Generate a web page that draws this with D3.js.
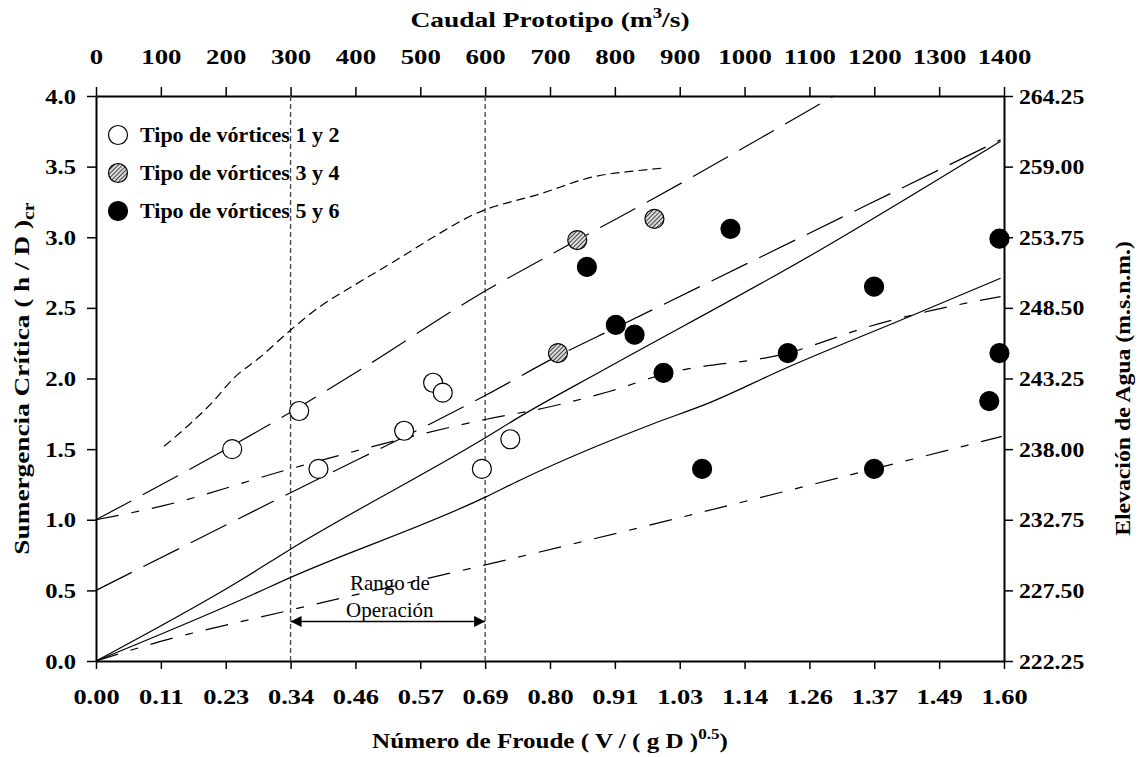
<!DOCTYPE html>
<html>
<head>
<meta charset="utf-8">
<script src="https://cdn.jsdelivr.net/npm/d3@7"></script>
<style>
  body { margin: 0; background: #fff; }
  text { font-family: "Liberation Serif", "Times New Roman", serif; }
</style>
</head>
<body>
<div id="chart"></div>
<script>
// tick labels
var caudalTicks = [0, 100, 200, 300, 400, 500, 600, 700, 800, 900, 1000, 1100, 1200, 1300, 1400];
var froudeLabels = ["0.00", "0.11", "0.23", "0.34", "0.46", "0.57", "0.69", "0.80", "0.91", "1.03", "1.14", "1.26", "1.37", "1.49", "1.60"];
var sumergTicks = [0, 0.5, 1, 1.5, 2, 2.5, 3, 3.5, 4];
var elevLabels = ["222.25", "227.50", "232.75", "238.00", "243.25", "248.50", "253.75", "259.00", "264.25"];
var rangoOperacion = [300, 600]; // caudal m3/s

// puntos [Froude, h/D]
var tipo12 = [[0.240, 1.50], [0.358, 1.77], [0.392, 1.36], [0.543, 1.63], [0.594, 1.97], [0.611, 1.90], [0.680, 1.36], [0.730, 1.57]];
var tipo34 = [[0.814, 2.18], [0.848, 2.98], [0.984, 3.13]];
var tipo56 = [[0.865, 2.79], [0.916, 2.38], [0.949, 2.31], [1.000, 2.04], [1.068, 1.36], [1.118, 3.06], [1.219, 2.18],
              [1.371, 2.65], [1.371, 1.36], [1.574, 1.84], [1.592, 2.99], [1.592, 2.18]];

// curvas
var solidA = [[0, 0], [0.254, 0.57], [0.342, 0.79], [0.686, 1.58], [0.747, 1.73], [0.894, 2.06], [1.263, 2.88], [1.594, 3.68]];
var solidB = [[0, 0], [0.254, 0.43], [0.342, 0.59], [0.686, 1.16], [0.747, 1.28], [0.882, 1.52], [0.982, 1.68], [1.076, 1.82],
              [1.219, 2.08], [1.44, 2.45], [1.594, 2.71]];
var longC = [[0, 1.0], [0.342, 1.76], [0.465, 2.06], [0.665, 2.57], [0.848, 2.98], [0.985, 3.28], [1.30, 4.0]];
var longD = [[0, 0.5], [0.342, 1.19], [0.686, 1.88], [0.814, 2.16], [0.916, 2.36], [1.594, 3.69]];
var shortE = [[0.12, 1.52], [0.166, 1.68], [0.207, 1.84], [0.242, 2.00], [0.289, 2.15], [0.342, 2.34], [0.395, 2.51], [0.459, 2.67],
              [0.530, 2.84], [0.594, 3.00], [0.665, 3.16], [0.785, 3.31], [0.879, 3.43], [0.95, 3.47], [1.00, 3.49]];
var dashDotF = [[0, 1.0], [0.119, 1.10], [0.342, 1.36], [0.686, 1.71], [0.80, 1.80], [0.906, 1.91], [1.0, 2.03], [1.219, 2.18],
                [1.364, 2.37], [1.471, 2.48], [1.594, 2.58]];
var dashDotG = [[0, 0], [0.089, 0.11], [0.342, 0.36], [0.686, 0.68], [1.371, 1.36], [1.596, 1.59]];

var margin = {top: 96, right: 136, bottom: 96, left: 96},
    width = 1140 - margin.left - margin.right,
    height = 757 - margin.top - margin.bottom;

var fontSize = 22;

var svgRoot = d3.select("#chart").append("svg")
    .attr("width", 1140)
    .attr("height", 757);

var defs = svgRoot.append("defs");
var pat = defs.append("pattern")
    .attr("id", "hatch")
    .attr("patternUnits", "userSpaceOnUse")
    .attr("width", 3).attr("height", 3)
    .attr("patternTransform", "rotate(45)");
pat.append("rect").attr("width", 3).attr("height", 3).attr("fill", "#e0e0e0");
pat.append("line").attr("x1", 0.5).attr("y1", 0).attr("x2", 0.5).attr("y2", 3)
    .attr("stroke", "#444").attr("stroke-width", 1.1);

defs.append("marker")
    .attr("id", "arrow")
    .attr("viewBox", "0 0 10 10")
    .attr("refX", 10).attr("refY", 5)
    .attr("markerWidth", 15).attr("markerHeight", 11)
    .attr("markerUnits", "userSpaceOnUse")
    .attr("orient", "auto-start-reverse")
    .append("path").attr("d", "M0,0 L10,5 L0,10 Z").attr("fill", "#000");

var svg = svgRoot.append("g")
    .attr("transform", "translate(" + margin.left + "," + margin.top + ")");

var x = d3.scaleLinear().domain([0, 1.6]).range([0, width]);
var xQ = d3.scaleLinear().domain([0, 1400]).range([0, width]);
var y = d3.scaleLinear().domain([0, 4]).range([height, 0]);
var yElev = d3.scaleLinear().domain([222.25, 264.25]).range([height, 0]);

// axes (labels are drawn a bit wide, like the original)
function styleAxis(stretch) {
  return function(g) {
    g.select(".domain").attr("stroke-width", 2);
    g.selectAll(".tick line").attr("stroke-width", 1.5);
    g.selectAll("text")
      .attr("font-size", fontSize).attr("font-weight", "bold").attr("fill", "#000")
      .style("font-family", "'Liberation Serif', serif")
      .attr("x", function() { return +d3.select(this).attr("x") / stretch; })
      .attr("transform", "scale(" + stretch + ",1)");
  };
}

svg.append("g")
    .attr("transform", "translate(0," + height + ")")
    .call(d3.axisBottom(xQ).tickValues(caudalTicks).tickFormat(function(d, i) { return froudeLabels[i]; })
          .tickSizeInner(8).tickSizeOuter(0).tickPadding(19))
    .call(styleAxis(1.2));

svg.append("g")
    .call(d3.axisTop(xQ).tickValues(caudalTicks).tickFormat(d3.format("d"))
          .tickSizeInner(9).tickSizeOuter(0).tickPadding(23))
    .call(styleAxis(1.22));

svg.append("g")
    .call(d3.axisLeft(y).tickValues(sumergTicks).tickFormat(d3.format(".1f"))
          .tickSizeInner(9).tickSizeOuter(0).tickPadding(11))
    .call(styleAxis(1.12));

svg.append("g")
    .attr("transform", "translate(" + width + ",0)")
    .call(d3.axisRight(yElev).tickValues(elevLabels.map(Number)).tickFormat(d3.format(".2f"))
          .tickSizeInner(9).tickSizeOuter(0).tickPadding(6))
    .call(styleAxis(1.08));

// axis titles
function title(tx, ty, rot, stretch) {
  return svgRoot.append("g")
      .attr("transform", "translate(" + tx + "," + ty + ")" + (rot ? " rotate(" + rot + ")" : ""))
    .append("text")
      .attr("transform", "scale(" + stretch + ",1)")
      .attr("text-anchor", "middle").attr("font-size", fontSize).attr("font-weight", "bold");
}

title(550, 27, 0, 1.25)
    .text("Caudal Prototipo (m")
    .call(function(t) {
      t.append("tspan").attr("dy", -9).attr("font-size", 15).text("3");
      t.append("tspan").attr("dy", 9).text("/s)");
    });

title(550, 748, 0, 1.14)
    .text("Número de Froude ( V / ( g D )")
    .call(function(t) {
      t.append("tspan").attr("dy", -9).attr("font-size", 15).text("0.5");
      t.append("tspan").attr("dy", 9).text(")");
    });

title(29, margin.top + height / 2, -90, 1.24)
    .text("Sumergencia Crítica ( h / D )")
    .call(function(t) {
      t.append("tspan").attr("dy", 5).attr("font-size", 16).text("cr");
    });

title(1130, margin.top + height / 2 + 10, -90, 1.08)
    .text("Elevación de Agua (m.s.n.m.)");

// rango de operacion
svg.selectAll(".rango")
    .data(rangoOperacion)
    .enter()
    .append("line")
      .attr("class", "rango")
      .attr("x1", function(d) { return xQ(d); })
      .attr("x2", function(d) { return xQ(d); })
      .attr("y1", 0).attr("y2", height)
      .attr("stroke", "#444")
      .attr("stroke-width", 1.3)
      .attr("stroke-dasharray", "5,3");

svg.append("line")
    .attr("x1", xQ(rangoOperacion[0])).attr("x2", xQ(rangoOperacion[1]))
    .attr("y1", y(0.28)).attr("y2", y(0.28))
    .attr("stroke", "#000").attr("stroke-width", 1.5)
    .attr("marker-start", "url(#arrow)").attr("marker-end", "url(#arrow)");

var xr = xQ((rangoOperacion[0] + rangoOperacion[1]) / 2) + 2;
var rangoText = svg.append("text")
    .attr("text-anchor", "middle").attr("font-size", 21)
    .attr("x", xr)
    .attr("y", y(0.28) - 31);
rangoText.append("tspan").text("Rango de");
rangoText.append("tspan").attr("x", xr).attr("dy", 27).text("Operación");

// curves
var line = d3.line()
    .x(function(d) { return x(d[0]); })
    .y(function(d) { return y(d[1]); })
    .curve(d3.curveMonotoneX);

var curves = [
  {data: solidA, dash: null},
  {data: solidB, dash: null},
  {data: longC, dash: "40,13"},
  {data: longD, dash: "40,13"},
  {data: shortE, dash: "9,5"},
  {data: dashDotF, dash: "23,13,8,13"},
  {data: dashDotG, dash: "23,13,8,13"}
];

svg.selectAll(".curve")
    .data(curves)
    .enter()
    .append("path")
      .attr("class", "curve")
      .attr("d", function(d) { return line(d.data); })
      .attr("fill", "none")
      .attr("stroke", "#000")
      .attr("stroke-width", 1.2)
      .attr("stroke-dasharray", function(d) { return d.dash; });

// points
var groups = [
  {data: tipo12, fill: "#fff", label: "Tipo de vórtices 1 y 2"},
  {data: tipo34, fill: "url(#hatch)", label: "Tipo de vórtices 3 y 4"},
  {data: tipo56, fill: "#000", label: "Tipo de vórtices 5 y 6"}
];

groups.forEach(function(g) {
  svg.selectAll(null)
      .data(g.data)
      .enter()
      .append("circle")
        .attr("cx", function(d) { return x(d[0]); })
        .attr("cy", function(d) { return y(d[1]); })
        .attr("r", 9.5)
        .attr("fill", g.fill)
        .attr("stroke", "#000")
        .attr("stroke-width", 1.2);
});

// legend
var legend = svg.selectAll(".legend")
    .data(groups)
    .enter()
    .append("g")
      .attr("class", "legend")
      .attr("transform", function(d, i) { return "translate(22," + (39 + i * 38) + ")"; });

legend.append("circle")
    .attr("r", 9.5)
    .attr("fill", function(d) { return d.fill; })
    .attr("stroke", "#000")
    .attr("stroke-width", 1.2);

legend.append("text")
    .attr("x", 22).attr("y", 7)
    .attr("font-size", 22).attr("font-weight", "bold")
    .text(function(d) { return d.label; });
</script>
</body>
</html>
